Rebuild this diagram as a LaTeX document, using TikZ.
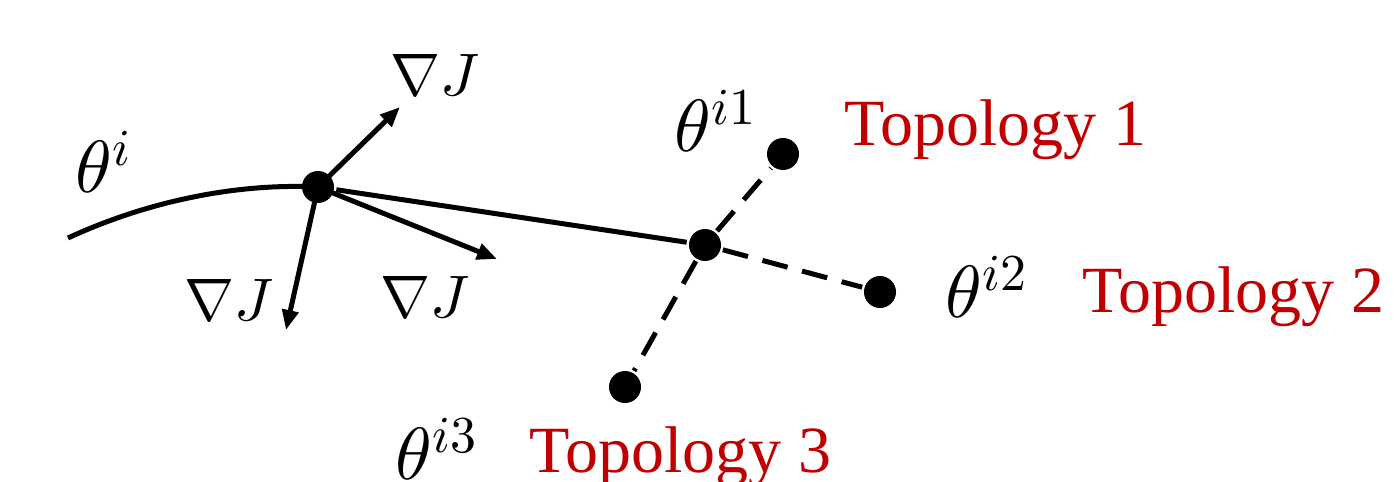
\documentclass[tikz,border=0pt]{standalone}
\usepackage{fontspec}
\setmainfont{Liberation Serif}
\usepackage{tikz}
\usetikzlibrary{arrows.meta, positioning, calc}
\definecolor{topored}{RGB}{192,0,0}
% scalable math fonts for large labels
\DeclareFontShape{OML}{cmm}{m}{it}{<->cmmi10}{}
\DeclareFontShape{OMS}{cmsy}{m}{n}{<->cmsy10}{}
\DeclareFontShape{OT1}{cmr}{m}{n}{<->cmr10}{}

\begin{document}
\begin{tikzpicture}[x=0.5pt, y=-0.5pt, >={Triangle[length=10pt, width=8pt]},
    line width=2.5pt,
    dot/.style={circle, fill=black, inner sep=0pt, minimum size=16pt},
    mlabel/.style={anchor=base west, inner sep=0pt, font=\fontsize{37}{40}\selectfont},
    glabel/.style={anchor=base east, inner sep=0pt, font=\fontsize{30}{33}\selectfont},
    tlabel/.style={anchor=base west, inner sep=0pt, text=topored, font=\fontsize{33}{36}\selectfont},
    trial/.style={dash pattern=on 13pt off 7.5pt}]

      \useasboundingbox (0,0) rectangle (1394,482);

      % --- Parameter points ---
      \node[dot] (thi) at (318,187) {};
      \node[dot] (mid) at (705,245) {};
      \node[dot] (top1) at (783,154) {};
      \node[dot] (top2) at (880,292) {};
      \node[dot] (top3) at (625,387) {};

      % --- Trajectory and gradient arrows ---
      \coordinate (start) at (68,238);
      \coordinate (gup) at (400,107);
      \coordinate (gdown) at (286,330);
      \coordinate (gright) at (497,259);
      \draw (start) .. controls (150,200) and (240,183) .. (thi.center);
      \draw[->] (thi.center) -- (gup);
      \draw[->] (thi.center) -- (gdown);
      \draw[->] (thi.center) -- (gright);
      \draw (thi) -- (mid);

      % --- Topology changes (dashed) ---
      \draw[trial] (mid) -- (top1);
      \draw[trial] (mid) -- (top2);
      \draw[trial] (mid) -- (top3);

      % --- Labels ---
      \node[mlabel] (lthi) at (73,192) {$\theta^{i}$};
      \node[glabel] (lgup) at (482,95) {$\nabla J$};
      \node[glabel] (lgdown) at (276,320) {$\nabla J$};
      \node[glabel] (lgright) at (472,317) {$\nabla J$};
      \node[mlabel] (lth1) at (672,151) {$\theta^{i1}$};
      \node[mlabel] (lth2) at (943,317) {$\theta^{i2}$};
      \node[mlabel] (lth3) at (393,479) {$\theta^{i3}$};
      \node[tlabel] (ltop1) at (842,145) {Topology 1};
      \node[tlabel] (ltop2) at (1080,312) {Topology 2};
      \node[tlabel] (ltop3) at (527,472) {Topology 3};

\end{tikzpicture}
\end{document}
